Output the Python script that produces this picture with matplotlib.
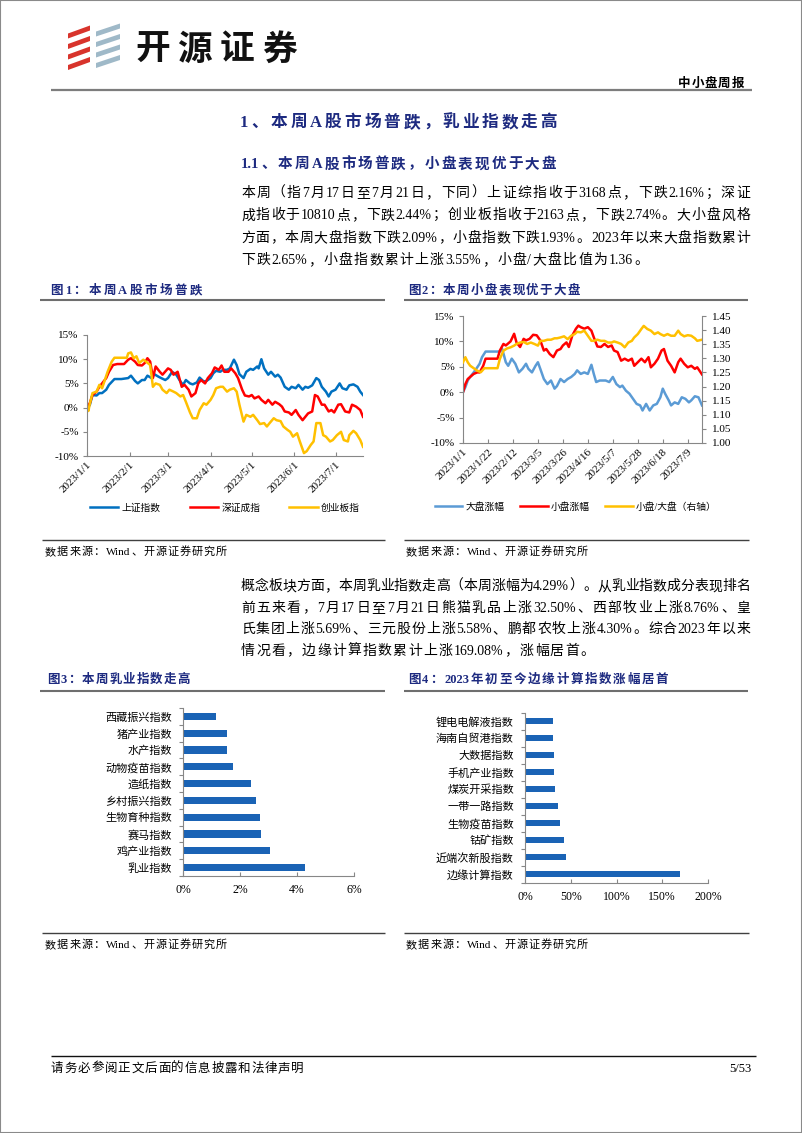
import re
import numpy as np
import pandas as pd
import matplotlib
matplotlib.use('Agg')
import matplotlib.pyplot as plt
import matplotlib.dates as mdates
from matplotlib.ticker import PercentFormatter, FuncFormatter, FixedLocator, NullFormatter, FormatStrFormatter
from matplotlib.lines import Line2D
from matplotlib.patches import Polygon, Rectangle

CJK = 'Noto Sans CJK SC'
SERIF = 'Liberation Serif'
plt.rcParams['font.family'] = [SERIF, CJK]
plt.rcParams['axes.unicode_minus'] = False

NAVY = '#1d2a80'
GRAY = '#878787'

# ---------------- data ----------------
start = pd.Timestamp('2023-01-01')

# Fig1: index cumulative change since 2023-01-01 (%), day offsets from 2023-01-01
sh_days = [0,2,4,7,9,11,14,16,20,25,30,32,35,37,40,42,44,47,49,52,54,57,59,62,65,68,70,72,75,77,
           80,82,85,87,90,92,94,97,99,102,104,107,109,111,114,116,119,121,124,125,127,129,132,134,137,139,141,144,147,149,
           152,154,157,159,161,164,167,169,171,174,176,178,181,184,186,189,191,194,197,199,201]
sh_vals = [0,0.5,2.6,2.5,3.0,3.0,3.7,4.7,5.9,5.9,6.1,6.6,5.5,5.0,5.7,5.7,6.6,6.1,6.9,6.4,
           6.1,5.7,6.1,7.4,6.8,5.4,4.7,5.7,5.0,4.8,5.2,6.2,5.4,5.5,6.1,7.1,7.6,7.4,7.8,7.8,
           8.1,9.9,8.8,6.9,6.1,7.4,8.0,7.8,8.5,8.1,10.0,8.1,6.8,7.4,6.4,6.8,6.2,4.3,3.7,4.3,
           4.0,4.7,3.7,4.3,4.1,4.6,6.1,5.7,4.3,3.3,2.3,3.3,3.7,5.0,4.0,3.7,4.6,4.8,4.3,3.3,2.6]

sz_days = [0,2,4,7,9,11,14,16,19,22,27,30,32,35,37,40,42,44,46,48,50,53,55,59,61,63,66,69,71,74,
           76,79,81,83,86,88,91,93,96,98,100,103,105,108,110,113,115,118,120,122,125,127,130,132,135,137,140,142,144,147,
           149,152,154,157,159,161,164,166,168,171,173,176,178,180,183,185,188,191,193,196,199,201]
sz_vals = [0,0.9,2.6,3.3,4.3,5.0,6.1,7.4,8.8,9.0,9.0,9.9,10.2,9.5,8.8,8.7,9.2,10.2,9.5,6.1,
           8.5,7.4,6.8,8.1,7.8,6.8,7.4,4.3,4.7,3.7,2.3,3.0,5.0,5.7,5.0,6.1,7.1,8.3,7.8,8.7,
           7.4,7.4,8.1,7.1,6.1,3.7,2.5,2.3,2.6,1.9,2.3,1.6,0.9,1.6,0.6,1.2,0.7,0.2,-0.8,-1.0,
           -1.5,-0.5,-1.5,-2.6,-1.9,-1.2,-0.8,2.6,2.3,0.6,0.6,-0.8,-0.5,-1.0,0.6,0.7,-0.8,-1.0,0.6,0.2,
           -0.5,-1.9]

cy_days = [0,1,2,4,7,9,11,13,15,18,20,25,29,30,32,34,36,38,41,43,46,48,50,53,55,58,60,63,65,68,
           70,72,75,77,80,82,85,87,90,92,94,97,99,102,104,107,109,111,114,116,119,121,124,126,129,131,133,136,138,141,
           143,146,148,150,153,155,158,160,163,165,167,170,172,174,177,179,182,185,187,190,191,194,196,199,201]
cy_vals = [0,-0.7,0.7,3.0,3.3,4.7,4.0,5.7,7.4,9.5,10.3,10.3,10.3,11.2,11.4,10.2,10.6,9.2,9.9,9.5,
           8.8,4.3,5.0,4.7,3.7,3.0,3.7,3.3,3.0,2.3,2.6,1.2,-1.0,-2.2,-2.2,-0.5,0.9,0.6,1.6,2.6,
           4.0,4.3,4.3,3.3,3.7,4.0,3.3,0.6,-2.9,-1.5,-1.9,-1.5,-2.6,-3.4,-3.2,-3.9,-3.2,-2.2,-2.6,-2.8,
           -3.9,-4.6,-5.0,-6.0,-5.3,-7.0,-9.4,-9.0,-7.7,-7.0,-3.2,-3.2,-5.7,-6.0,-7.0,-6.7,-5.7,-5.0,-6.7,-7.0,
           -5.7,-4.8,-5.3,-6.7,-8.1]

# Fig2: large / small cap cumulative change (%), ratio (right axis)
big_days = [0,2,4,6,9,12,14,16,19,23,29,31,33,36,38,41,44,47,50,53,55,58,61,63,65,68,71,74,77,79,
            82,85,88,91,94,96,99,102,105,108,110,112,115,118,120,123,126,129,132,134,137,140,143,146,149,151,154,157,160,163,
            166,168,170,173,175,178,181,184,187,190,192,195,198,201]
big_vals = [0,1.0,2.3,3.0,3.9,4.9,5.6,6.9,8.0,8.0,8.0,8.0,8.5,5.9,5.2,6.6,5.6,3.9,4.6,5.6,
            4.6,3.9,5.2,5.9,4.6,2.6,1.6,2.3,0.7,1.2,2.6,2.0,2.6,3.0,3.6,4.3,3.6,3.9,3.6,5.4,
            3.6,2.0,2.3,2.3,2.3,2.0,3.0,1.6,1.0,1.3,0.3,-0.3,-1.3,-2.3,-2.6,-3.6,-2.3,-3.6,-2.6,-2.3,
            -1.0,0.7,-0.3,-1.6,-2.6,-2.0,-2.3,-1.0,-1.3,-2.0,-1.6,-0.8,-1.0,-2.6]

small_days = [0,2,4,6,9,12,14,17,19,24,29,31,34,36,40,43,45,48,51,53,56,59,62,65,68,70,73,76,79,82,
              84,87,89,92,95,97,99,102,105,108,110,113,116,119,122,125,127,130,133,136,139,142,144,147,150,153,156,158,161,164,
              167,169,172,175,178,181,183,186,189,192,195,197,201]
small_vals = [0,1.6,2.6,3.0,3.6,3.9,3.9,5.2,6.6,6.6,6.6,8.2,9.5,9.2,10.0,11.5,9.8,8.9,10.5,10.2,
              10.5,11.3,11.2,10.2,8.2,8.5,7.5,6.9,8.2,8.5,9.2,9.8,8.9,11.2,12.5,13.1,12.8,12.5,12.8,12.1,
              10.8,9.0,8.9,9.5,8.9,9.2,8.2,7.9,6.2,6.6,6.2,6.6,5.2,5.9,6.6,5.9,6.9,4.9,5.6,6.6,
              8.2,8.5,6.2,5.2,3.9,5.9,6.6,5.6,4.9,5.2,4.6,4.9,3.5]

ratio_days = [0,2,4,6,9,12,15,18,23,29,31,34,37,40,43,45,48,51,54,57,60,63,65,68,71,74,77,79,82,85,
              88,91,94,96,99,102,105,108,110,113,116,119,122,125,127,130,133,136,139,142,144,147,150,152,155,158,161,164,166,169,
              172,175,178,181,183,186,189,192,195,197,201]
ratio_vals = [1.286,1.304,1.286,1.274,1.265,1.256,1.251,1.265,1.265,1.265,1.298,1.327,1.335,1.339,1.345,1.351,1.356,1.358,1.351,1.356,
              1.351,1.345,1.362,1.362,1.366,1.366,1.371,1.371,1.374,1.378,1.368,1.380,1.386,1.394,1.392,1.398,1.380,1.362,1.362,1.366,
              1.362,1.362,1.356,1.356,1.360,1.356,1.351,1.339,1.356,1.362,1.374,1.386,1.404,1.415,1.404,1.398,1.386,1.392,1.386,1.380,
              1.386,1.380,1.380,1.398,1.386,1.378,1.382,1.380,1.371,1.362,1.366]

# Fig3: this week's concept index change (%), listed bottom -> top
c3_labels = ['乳业指数', '鸡产业指数', '赛马指数', '生物育种指数', '乡村振兴指数',
             '造纸指数', '动物疫苗指数', '水产指数', '猪产业指数', '西藏振兴指数']
c3_vals = [4.29, 3.04, 2.75, 2.69, 2.55, 2.39, 1.75, 1.54, 1.55, 1.15]

# Fig4: YTD concept index change (%), listed bottom -> top
c4_labels = ['边缘计算指数', '近端次新股指数', '钴矿指数', '生物疫苗指数', '一带一路指数',
             '煤炭开采指数', '手机产业指数', '大数据指数', '海南自贸港指数', '锂电电解液指数']
c4_vals = [169.08, 44.8, 43.0, 38.3, 36.4, 32.4, 31.7, 31.3, 30.3, 30.6]

y1_ticks = [-10, -5, 0, 5, 10, 15]
r2_ticks = [1.00, 1.05, 1.10, 1.15, 1.20, 1.25, 1.30, 1.35, 1.40, 1.45]
x3_ticks = [0, 2, 4, 6]
x4_ticks = [0, 50, 100, 150, 200]

para1 = [
    "本周（指 7 月 17 日至 7 月 21 日，下同）上证综指收于 3168 点，下跌 2.16%；深证",
    "成指收于 10810 点，下跌 2.44%；创业板指收于 2163 点，下跌 2.74%。大小盘风格",
    "方面，本周大盘指数下跌 2.09%，小盘指数下跌 1.93%。2023 年以来大盘指数累计",
    "下跌 2.65%，小盘指数累计上涨 3.55%，小盘/大盘比值为 1.36。",
]
para2 = [
    "概念板块方面，本周乳业指数走高（本周涨幅为 4.29%）。从乳业指数成分表现排名",
    "前五来看，7 月 17 日至 7 月 21 日熊猫乳品上涨 32.50%、西部牧业上涨 8.76%、皇",
    "氏集团上涨 5.69%、三元股份上涨 5.58%、鹏都农牧上涨 4.30%。综合 2023 年以来",
    "情况看，边缘计算指数累计上涨 169.08%，涨幅居首。",
]

# ---------------- figure helpers ----------------
W, H = 802, 1133
fig = plt.figure(figsize=(W / 100, H / 100), dpi=100)
fig.patch.set_facecolor('white')
renderer = fig.canvas.get_renderer()


def fx(x):
    return x / W


def fy(y):
    return 1 - y / H


def axes_px(l, t, r, b):
    return fig.add_axes([fx(l), fy(b), (r - l) / W, (b - t) / H])


def hline(x0, x1, y, color, lw):
    fig.add_artist(Line2D([fx(x0), fx(x1)], [fy(y), fy(y)], transform=fig.transFigure,
                          color=color, lw=lw, solid_capstyle='butt'))


TOK = re.compile(r'[\x21-\x7e]+|[^\x00-\x7f]')


def put_text(s, x0, x1, y, size, weight='normal', color='black', gap=None):
    """Place a line of text from x0; spread evenly up to x1 (pixels) if x1 given."""
    toks = TOK.findall(s)
    items = []
    for t in toks:
        tt = fig.text(0, 0, t, fontsize=size, fontweight=weight, color=color,
                      va='baseline', ha='left')
        w = tt.get_window_extent(renderer).width
        items.append((tt, w))
    total = sum(w for _, w in items)
    if x1 is not None:
        gap = (x1 - x0 - total) / max(len(items) - 1, 1)
    elif gap is None:
        gap = 1.3
    base = y + 0.37 * size * 100 / 72
    x = x0
    for tt, w in items:
        tt.set_position((fx(x), fy(base)))
        x += w + gap


def date_fmt(v, pos=None):
    d = mdates.num2date(v)
    return f"{d.year}/{d.month}/{d.day}"


def style_axes(ax, spines=('left', 'bottom')):
    for k, sp in ax.spines.items():
        if k in spines:
            sp.set_color(GRAY)
            sp.set_linewidth(0.8)
        else:
            sp.set_visible(False)


# ---------------- page decoration ----------------
fig.add_artist(Rectangle((0, 0), 1, 1, transform=fig.transFigure, fill=False,
                         edgecolor='#8a8a8a', lw=1.5))

# logo stripes
for i in range(4):
    yb = 70 - i * 10.5
    fig.add_artist(Polygon([(fx(68), fy(yb)), (fx(90), fy(yb - 8)), (fx(90), fy(yb - 13)),
                            (fx(68), fy(yb - 5))], closed=True, transform=fig.transFigure,
                           facecolor='#d8342c', edgecolor='none'))
    fig.add_artist(Polygon([(fx(96), fy(yb - 2)), (fx(120), fy(yb - 10)), (fx(120), fy(yb - 15)),
                            (fx(96), fy(yb - 7))], closed=True, transform=fig.transFigure,
                           facecolor='#9fb9c8', edgecolor='none'))
put_text("开源证券", 135, 297, 47, 25, weight='bold', color='#111111')

put_text("中小盘周报", 678, 744, 82, 9, weight='bold')
hline(51, 752, 89.5, '#7d7d7d', 1.6)

put_text("1、本周 A 股市场普跌，乳业指数走高", 240, 557, 121, 12, weight='bold', color=NAVY)
put_text("1.1、本周 A 股市场普跌，小盘表现优于大盘", 241, 556, 163, 10.5, weight='bold', color=NAVY)

for i, line in enumerate(para1):
    x1 = 750 if i < 3 else None
    put_text(line, 241, x1, 192 + i * 22.3, 10)

put_text("图1：本周 A 股市场普跌", 50, 202, 289.5, 9, weight='bold', color=NAVY)
put_text("图2：本周小盘表现优于大盘", 408, 580, 289.5, 9, weight='bold', color=NAVY)
hline(40, 385, 299.5, '#6e6e6e', 1.5)
hline(404, 748, 299.5, '#6e6e6e', 1.5)

hline(42, 385, 540, '#404040', 1.0)
hline(404, 749, 540, '#404040', 1.0)
put_text("数据来源：Wind、开源证券研究所", 45, 227, 551, 8)
put_text("数据来源：Wind、开源证券研究所", 406, 588, 551, 8)

for i, line in enumerate(para2):
    x1 = 750 if i < 3 else None
    put_text(line, 241, x1, 585 + i * 21.5, 10)

put_text("图3：本周乳业指数走高", 47, 190, 678, 9, weight='bold', color=NAVY)
put_text("图4：2023 年初至今边缘计算指数涨幅居首", 408, 668, 678, 9, weight='bold', color=NAVY)
hline(40, 385, 691, '#6e6e6e', 1.5)
hline(404, 748, 691, '#6e6e6e', 1.5)

hline(42, 385, 933, '#404040', 1.0)
hline(404, 749, 933, '#404040', 1.0)
put_text("数据来源：Wind、开源证券研究所", 45, 227, 944, 8)
put_text("数据来源：Wind、开源证券研究所", 406, 588, 944, 8)

hline(51, 756, 1056, '#111111', 1.0)
put_text("请务必参阅正文后面的信息披露和法律声明", 51, 304, 1067, 9)
fig.text(fx(751), fy(1067 + 0.37 * 9 * 100 / 72), "5/53", fontsize=9, ha='right', va='baseline')

# ---------------- Fig 1 ----------------
ax1 = axes_px(87, 335, 363, 456)
t = lambda d: start + pd.to_timedelta(d, unit='D')
ax1.plot(t(sh_days), sh_vals, color='#0070C0', lw=1.8, label='上证指数')
ax1.plot(t(sz_days), sz_vals, color='#FF0000', lw=1.8, label='深证成指')
ax1.plot(t(cy_days), cy_vals, color='#FFC000', lw=1.8, label='创业板指')
ax1.set_ylim(-10, 15)
ax1.set_xlim(start, start + pd.Timedelta(days=201))
ax1.yaxis.set_major_locator(FixedLocator(y1_ticks))
ax1.yaxis.set_major_formatter(PercentFormatter(100, decimals=0))
ax1.xaxis.set_major_locator(mdates.MonthLocator())
ax1.xaxis.set_major_formatter(FuncFormatter(date_fmt))
style_axes(ax1)
ax1.tick_params(axis='y', direction='out', length=3, color=GRAY, labelsize=8, pad=3)
ax1.tick_params(axis='x', direction='in', length=3, color=GRAY, labelsize=8, pad=3)
plt.setp(ax1.get_xticklabels(), rotation=45, ha='right', rotation_mode='anchor')
ax1.legend(loc='center', bbox_to_anchor=(fx(225), fy(508)), bbox_transform=fig.transFigure,
           ncol=3, frameon=False, fontsize=7, handlelength=2.9, handletextpad=0.35,
           columnspacing=3.0, borderpad=0, borderaxespad=0)

# ---------------- Fig 2 ----------------
ax2 = axes_px(463, 316, 702, 443)
l_big, = ax2.plot(t(big_days), big_vals, color='#5B9BD5', lw=1.8)
l_small, = ax2.plot(t(small_days), small_vals, color='#FF0000', lw=1.8)
ax2.set_ylim(-10, 15)
ax2.set_xlim(start, start + pd.Timedelta(days=201))
ax2.yaxis.set_major_locator(FixedLocator(y1_ticks))
ax2.yaxis.set_major_formatter(PercentFormatter(100, decimals=0))
ax2.set_xticks(pd.date_range(start, periods=10, freq='21D'))
ax2.xaxis.set_major_formatter(FuncFormatter(date_fmt))
style_axes(ax2)
ax2.tick_params(axis='y', direction='out', length=3, color=GRAY, labelsize=8, pad=3)
ax2.tick_params(axis='x', direction='in', length=3, color=GRAY, labelsize=8, pad=3)
plt.setp(ax2.get_xticklabels(), rotation=45, ha='right', rotation_mode='anchor')

ax2r = ax2.twinx()
l_ratio, = ax2r.plot(t(ratio_days), ratio_vals, color='#FFC000', lw=1.8)
ax2r.set_ylim(1.00, 1.45)
ax2r.yaxis.set_major_locator(FixedLocator(r2_ticks))
ax2r.yaxis.set_major_formatter(FormatStrFormatter('%.2f'))
style_axes(ax2r, spines=('right',))
ax2r.tick_params(axis='y', direction='out', length=3, color=GRAY, labelsize=8, pad=4)
ax2.legend([l_big, l_small, l_ratio], ['大盘涨幅', '小盘涨幅', '小盘/大盘（右轴）'],
           loc='center', bbox_to_anchor=(fx(576), fy(507)), bbox_transform=fig.transFigure,
           ncol=3, frameon=False, fontsize=7, handlelength=2.8, handletextpad=0.35,
           columnspacing=1.6, borderpad=0, borderaxespad=0)


# ---------------- bar charts ----------------
def bar_chart(ax, labels, vals, xticks, bar_h):
    pos = np.arange(len(labels))
    ax.barh(pos, vals, height=bar_h, color='#1A63B5')
    ax.set_ylim(-0.5, len(labels) - 0.5)
    ax.set_xlim(xticks[0], xticks[-1])
    ax.xaxis.set_major_locator(FixedLocator(xticks))
    ax.xaxis.set_major_formatter(PercentFormatter(100, decimals=0))
    ax.yaxis.set_major_locator(FixedLocator(np.arange(len(labels) + 1) - 0.5))
    ax.yaxis.set_major_formatter(NullFormatter())
    ax.set_yticks(pos, labels, minor=True)
    style_axes(ax)
    ax.tick_params(axis='y', which='major', direction='out', length=3, color=GRAY)
    ax.tick_params(axis='y', which='minor', length=0, pad=8, labelsize=8)
    ax.tick_params(axis='x', direction='in', length=3, color=GRAY, labelsize=8.5, pad=6)


ax3 = axes_px(183, 708, 354, 876)
bar_chart(ax3, c3_labels, c3_vals, x3_ticks, 0.42)

ax4 = axes_px(525, 712.5, 708, 882.5)
bar_chart(ax4, c4_labels, c4_vals, x4_ticks, 0.38)

fig.savefig('out.png', dpi=100, facecolor='white')
